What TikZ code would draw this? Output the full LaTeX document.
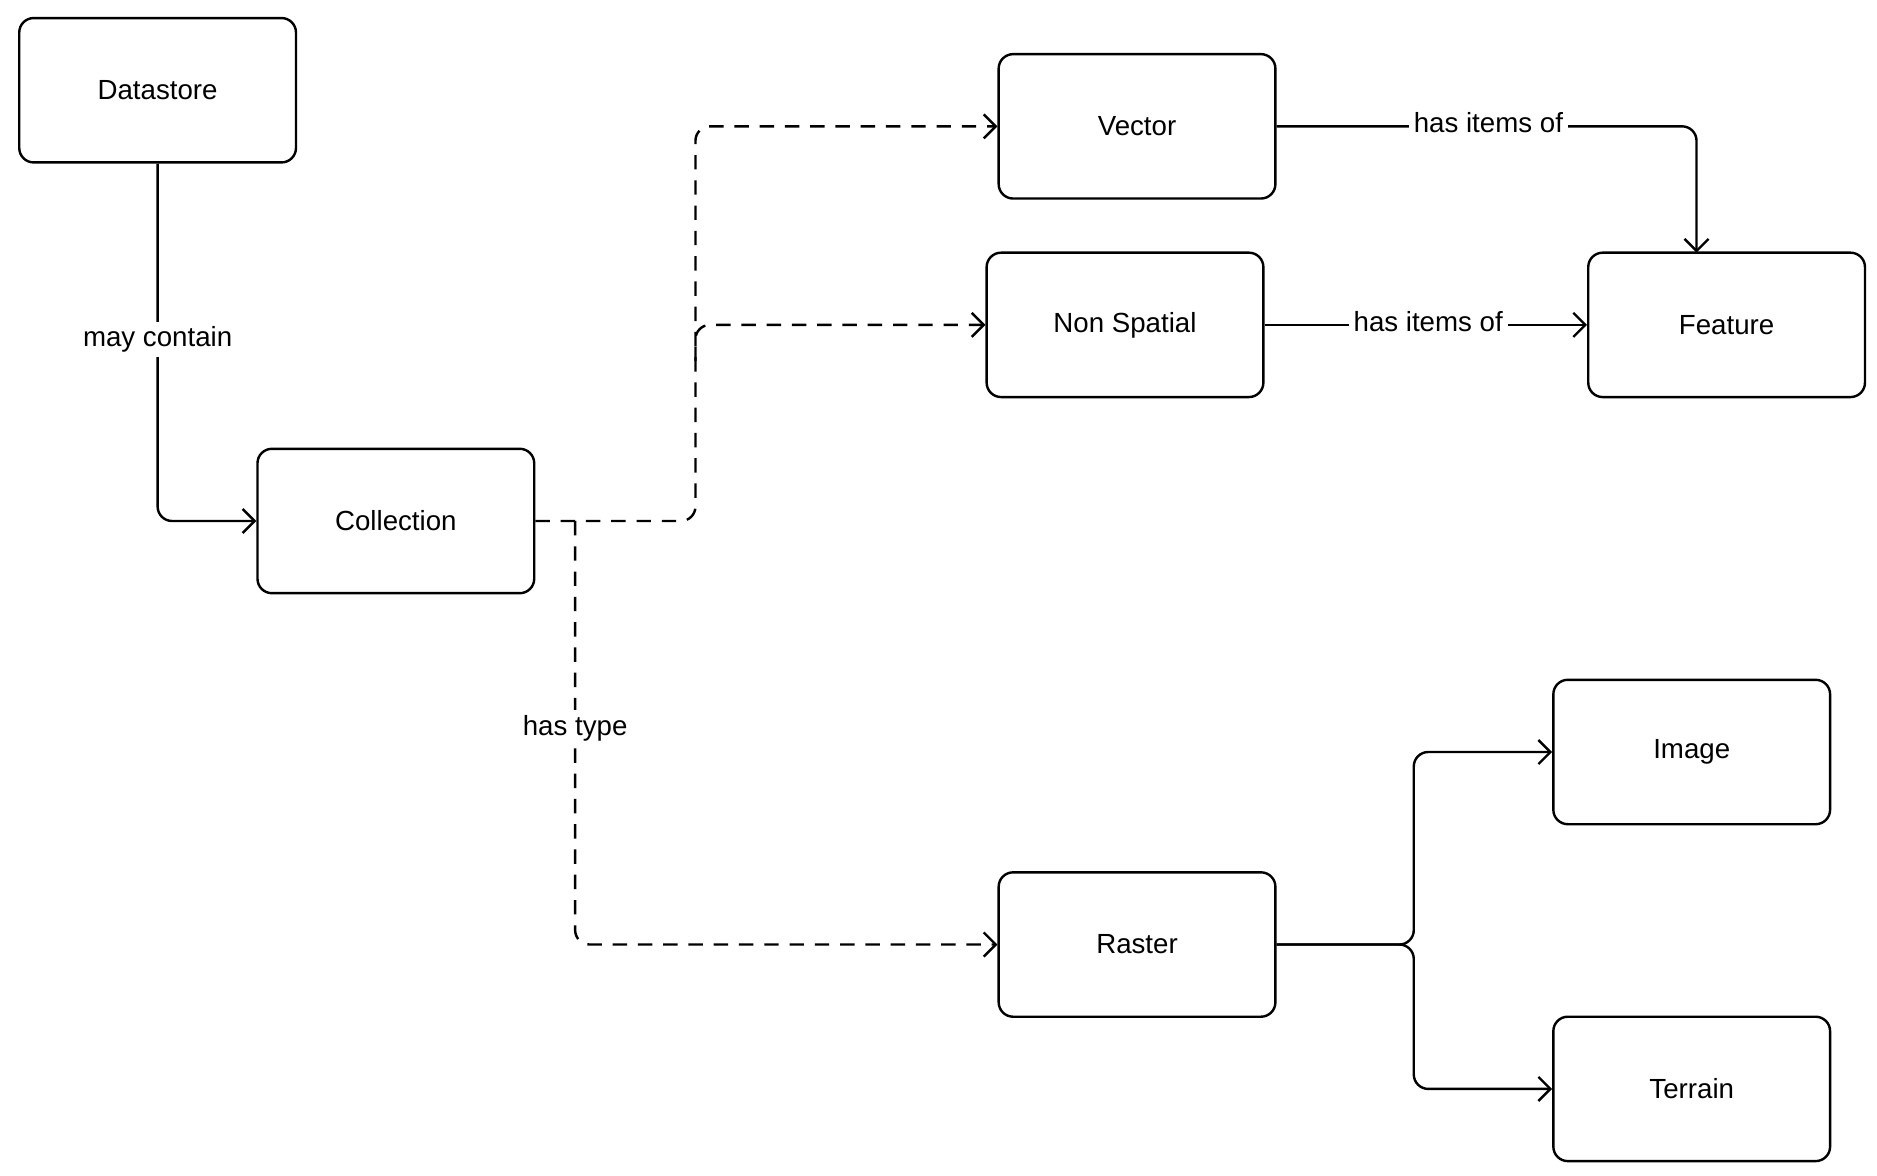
\documentclass[tikz,border=0pt]{standalone}
\usepackage{fontspec}
\setmainfont{Liberation Sans}
\usetikzlibrary{arrows.meta}
\begin{document}
\begin{tikzpicture}[x=1pt,y=-1pt,
 box/.style={draw,line width=2pt,rounded corners=12pt,minimum width=230pt,minimum height=120pt,font=\fontsize{23}{28}\selectfont},
 con/.style={draw,line width=2pt,rounded corners=12pt,-{Straight Barb[length=10pt,width=20pt,line width=2pt]}},
 dsh/.style={dash pattern=on 12pt off 9pt},
 lab/.style={fill=white,font=\fontsize{23}{28}\selectfont,inner sep=4pt}]
\useasboundingbox (0,0) rectangle (1560,977);
\node[box] (ds) at (131,75) {Datastore};
\node[box] (col) at (329,433) {Collection};
\node[box] (vec) at (945,105) {Vector};
\node[box] (ns) at (935,270) {Non Spatial};
\node[box] (fe) at (1435,270) {Feature};
\node[box] (img) at (1406,625) {Image};
\node[box] (ras) at (945,785) {Raster};
\node[box] (ter) at (1406,905) {Terrain};
\coordinate (j) at (1175,785);
\draw[con] (ds.south) |- (col.west);
\node[lab] (l1) at (131,282) {may contain};
\draw[con,dsh] (col.east) -| (578,270) |- (vec.west);
\draw[con,dsh] (578,300) |- (ns.west);
\draw[con,dsh] (478,433) |- (ras.west);
\node[lab] (l2) at (478,605) {has type};
\draw[con] (vec.east) -| (1410,210);
\node[lab] (l3) at (1237,102) {has items of};
\draw[con] (ns.east) -- (fe.west);
\node[lab] (l4) at (1187,267) {has items of};
\draw[con] (ras.east) -- (j) |- (img.west);
\draw[con] (ras.east) -- (j) |- (ter.west);
\end{tikzpicture}
\end{document}
